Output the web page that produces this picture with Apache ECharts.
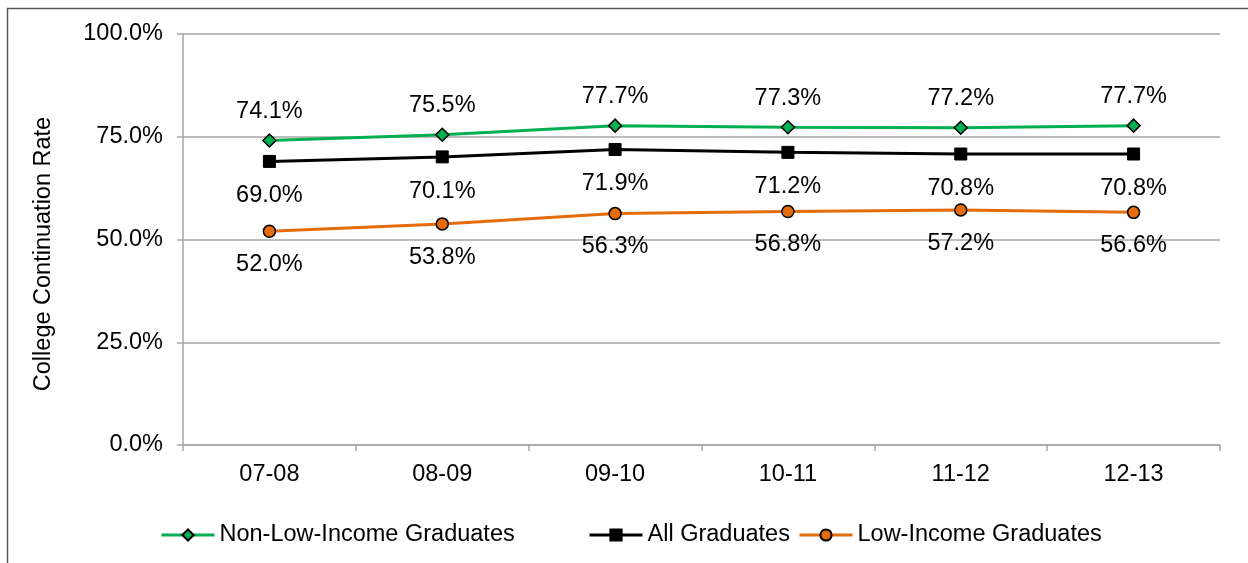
<!DOCTYPE html>
<html>
<head>
<meta charset="utf-8">
<script src="https://cdn.jsdelivr.net/npm/echarts@6/dist/echarts.min.js"></script>
<style>
  html, body { margin: 0; padding: 0; background: #fff; }
  #chart { width: 1248px; height: 563px; }
</style>
</head>
<body>
<div id="chart"></div>
<script>
// School years on the category axis
const years = ['07-08', '08-09', '09-10', '10-11', '11-12', '12-13'];

// College continuation rates (%)
const nonLowIncome = [74.1, 75.5, 77.7, 77.3, 77.2, 77.7];
const allGraduates = [69.0, 70.1, 71.9, 71.2, 70.8, 70.8];
const lowIncome = [52.0, 53.8, 56.3, 56.8, 57.2, 56.6];

// Value axis ticks
const yTicks = [0, 25, 50, 75, 100];

const seriesNames = ['Non-Low-Income Graduates', 'All Graduates', 'Low-Income Graduates'];
const axisTitle = 'College Continuation Rate';

const FONT = 'Liberation Sans, Arial, sans-serif';
const FS = 23.5;
const GREEN = '#00B050';
const ORANGE = '#E46C0A';
const GRID = '#a6a6a6';

const chart = echarts.init(document.getElementById('chart'), null, { renderer: 'canvas' });

function pct(v) { return v.toFixed(1) + '%'; }

function legendAt(left, name) {
  return {
    data: [name],
    left: left,
    top: 523,
    padding: 0,
    itemWidth: 53,
    itemHeight: 14,
    itemGap: 0,
    lineStyle: { width: 3 },
    textStyle: { fontFamily: FONT, fontSize: FS, color: '#000' },
    selectedMode: false
  };
}

const option = {
  animation: false,
  backgroundColor: '#fff',
  grid: { left: 183, right: 28, top: 34, bottom: 118, containLabel: false },
  legend: [
    legendAt(160, seriesNames[0]),
    legendAt(588, seriesNames[1]),
    legendAt(798, seriesNames[2])
  ],
  xAxis: {
    type: 'category',
    data: years,
    boundaryGap: true,
    axisLine: { lineStyle: { color: GRID, width: 1.5 } },
    axisTick: { show: true, length: 6, lineStyle: { color: GRID, width: 1.5 } },
    axisLabel: { fontFamily: FONT, fontSize: FS, color: '#000', margin: 18 }
  },
  yAxis: {
    type: 'value',
    min: yTicks[0],
    max: yTicks[yTicks.length - 1],
    interval: yTicks[1] - yTicks[0],
    axisLine: { show: true, lineStyle: { color: GRID, width: 1.5 } },
    axisTick: { show: true, length: 6, lineStyle: { color: GRID, width: 1.5 } },
    splitLine: { lineStyle: { color: GRID, width: 1.5 } },
    axisLabel: { fontFamily: FONT, fontSize: FS, color: '#000', margin: 20, formatter: pct }
  },
  series: [
    {
      name: seriesNames[0],
      type: 'line',
      data: nonLowIncome,
      symbol: 'diamond',
      symbolSize: 13,
      lineStyle: { color: GREEN, width: 3 },
      itemStyle: { color: GREEN, borderColor: '#000', borderWidth: 1.5 },
      label: { show: true, position: 'top', distance: 10, fontFamily: FONT, fontSize: FS, color: '#000', formatter: p => pct(p.value) }
    },
    {
      name: seriesNames[1],
      type: 'line',
      data: allGraduates,
      symbol: 'rect',
      symbolSize: 12,
      lineStyle: { color: '#000', width: 3 },
      itemStyle: { color: '#000', borderColor: '#000', borderWidth: 1 },
      label: { show: true, position: 'bottom', distance: 16, fontFamily: FONT, fontSize: FS, color: '#000', formatter: p => pct(p.value) }
    },
    {
      name: seriesNames[2],
      type: 'line',
      data: lowIncome,
      symbol: 'circle',
      symbolSize: 12,
      lineStyle: { color: ORANGE, width: 3 },
      itemStyle: { color: ORANGE, borderColor: '#000', borderWidth: 1.5 },
      label: { show: true, position: 'bottom', distance: 14.5, fontFamily: FONT, fontSize: FS, color: '#000', formatter: p => pct(p.value) }
    }
  ],
  graphic: [
    {
      type: 'polyline',
      silent: true,
      shape: { points: [[7.5, 563], [7.5, 8.5], [1248, 8.5]] },
      style: { stroke: '#595959', lineWidth: 1.5, fill: null }
    },
    {
      // value axis title
      type: 'text',
      silent: true,
      x: 44,
      y: 254,
      rotation: Math.PI / 2,
      style: {
        text: axisTitle,
        fontFamily: FONT,
        fontSize: FS,
        fill: '#000',
        align: 'center',
        verticalAlign: 'middle'
      }
    }
  ]
};

chart.setOption(option);
</script>
</body>
</html>
